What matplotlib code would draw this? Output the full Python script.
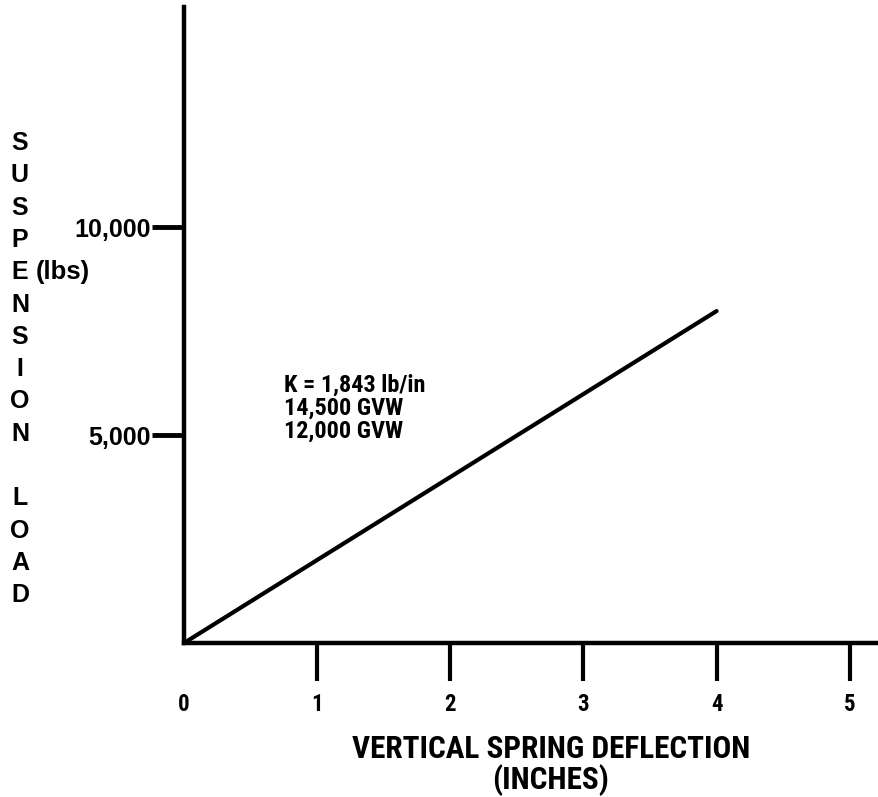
import matplotlib
matplotlib.use("Agg")
import matplotlib.pyplot as plt

# ── Data ───────────────────────────────────────────────────────────────────
deflection = [0, 4]          # inches
load = [0, 7980]             # lbs
x_ticks = [0, 1, 2, 3, 4, 5]
y_ticks = [5000, 10000]
y_tick_labels = ["5,000", "10,000"]
y_letters = list("SUSPENSION") + [""] + list("LOAD")
note_lines = ["K = 1,843 lb/in", "14,500 GVW", "12,000 GVW"]

NARROW = ["Roboto Condensed", "Liberation Sans", "DejaVu Sans"]
WIDE = ["Liberation Sans", "DejaVu Sans"]

W, H = 879, 797
fig = plt.figure(figsize=(W / 100, H / 100), dpi=100)

# axes origin sits at pixel (184, 643)
ax = fig.add_axes([184 / W, 1 - 643 / H, (W - 184) / W, (643 - 7) / H])
ax.plot(deflection, load, color="black", linewidth=3, solid_capstyle="round")

ax.set_xlim(0, 5.22)
ax.set_ylim(0, 15290)
for s in ("top", "right"):
    ax.spines[s].set_visible(False)
for s in ("left", "bottom"):
    ax.spines[s].set_linewidth(3.2)
    ax.spines[s].set_color("black")

ax.set_xticks(x_ticks)
ax.set_xticklabels([str(v) for v in x_ticks], fontsize=16.5, fontweight="bold",
                   family=NARROW)
ax.tick_params(axis="x", direction="out", length=27, width=3, pad=9)
ax.xaxis.get_major_ticks()[0].tick1line.set_visible(False)

ax.set_yticks(y_ticks)
ax.set_yticklabels(y_tick_labels, fontsize=18, fontweight="bold", family=WIDE)
ax.tick_params(axis="y", direction="out", length=23, width=3.5, pad=1)

# vertical stacked y label
y0, step = 143, 32.3
for i, ch in enumerate(y_letters):
    if ch:
        fig.text(20 / W, 1 - (y0 + i * step) / H, ch, ha="center", va="center",
                 fontsize=18, fontweight="bold", family=WIDE)
fig.text(36 / W, 1 - 272 / H, "(lbs)", ha="left", va="center",
         fontsize=18.5, fontweight="bold", family=WIDE)

# annotation block
fig.text(284 / W, 1 - 408 / H, "\n".join(note_lines), ha="left", va="center",
         fontsize=17.5, fontweight="bold", family=NARROW, linespacing=1.0)

# x label
fig.text(551 / W, 1 - 749 / H, "VERTICAL SPRING DEFLECTION", ha="center",
         va="center", fontsize=22.5, fontweight="bold", family=NARROW)
fig.text(551 / W, 1 - 780 / H, "(INCHES)", ha="center", va="center",
         fontsize=22.5, fontweight="bold", family=NARROW)

fig.savefig("out.png", dpi=100)
